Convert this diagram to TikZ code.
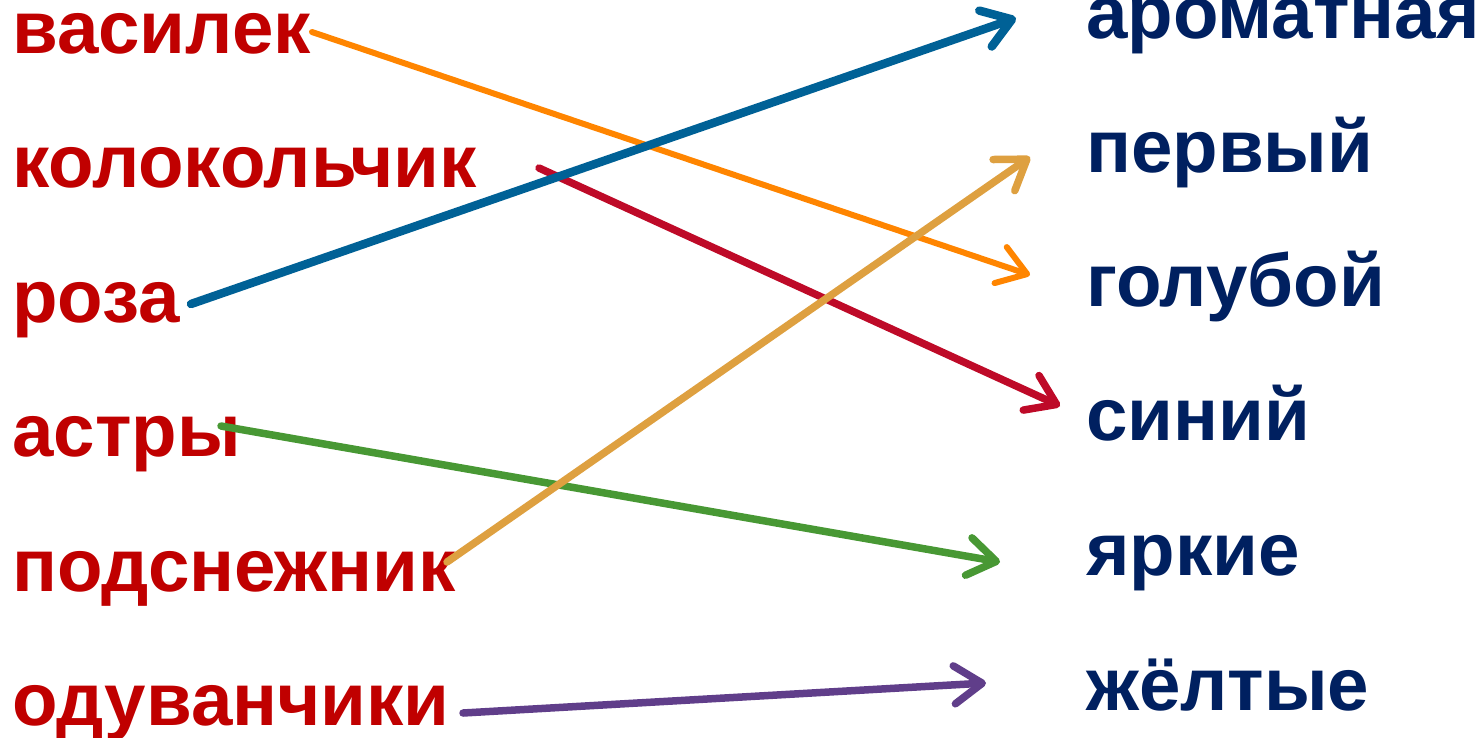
\documentclass[tikz,border=0pt]{standalone}
\usepackage{fontspec}
\setmainfont{Liberation Sans}
\usetikzlibrary{arrows.meta}
\definecolor{wordred}{RGB}{192,0,0}
\definecolor{wordnavy}{RGB}{0,32,96}
\definecolor{arrorange}{RGB}{255,133,0}
\definecolor{arrblue}{RGB}{0,97,150}
\definecolor{arrred}{RGB}{190,10,40}
\definecolor{arrgold}{RGB}{222,160,64}
\definecolor{arrgreen}{RGB}{72,152,52}
\definecolor{arrpurple}{RGB}{96,62,138}
\tikzset{
  word/.style={anchor=base west, inner sep=0pt, font=\fontsize{74.5}{80}\selectfont\bfseries},
  leftword/.style={word, text=wordred},
  rightword/.style={word, text=wordnavy},
  link/.style={line width=7.5pt, line cap=round, line join=round,
    -{Straight Barb[length=28pt,width=38pt,line cap=round,line join=round]}},
}
\begin{document}
\begin{tikzpicture}[x=1pt,y=-1pt]
\useasboundingbox (0,0) rectangle (1483,737);
% left words
\node[leftword] (l1) at (12,53) {василек};
\node[leftword] (l2) at (12,187.5) {колокольчик};
\node[leftword] (l3) at (12,322) {роза};
\node[leftword] (l4) at (12,456.5) {астры};
\node[leftword] (l5) at (12,591) {подснежник};
\node[leftword] (l6) at (12,725) {одуванчики};
% right words
\node[rightword] (r1) at (1086,38) {ароматная};
\node[rightword] (r2) at (1086,172.5) {первый};
\node[rightword] (r3) at (1086,306.5) {голубой};
\node[rightword] (r4) at (1086,440.5) {синий};
\node[rightword] (r5) at (1086,575) {яркие};
\node[rightword] (r6) at (1086,710) {жёлтые};
% connector ends
\coordinate (s1) at (312,32);
\coordinate (e1) at (1030,275);
\coordinate (s2) at (539,168);
\coordinate (e2) at (1060,406);
\coordinate (s3) at (191,304);
\coordinate (e3) at (1016,18);
\coordinate (s4) at (221,426);
\coordinate (e4) at (1000,562);
\coordinate (s5) at (447,562);
\coordinate (e5) at (1030,157);
\coordinate (s6) at (463,713);
\coordinate (e6) at (986,683);
% connectors
\draw[link, arrorange, line width=6pt] (s1) -- (e1);
\draw[link, arrred] (s2) -- (e2);
\draw[link, arrblue, line width=8.5pt] (s3) -- (e3);
\draw[link, arrgreen] (s4) -- (e4);
\draw[link, arrgold] (s5) -- (e5);
\draw[link, arrpurple] (s6) -- (e6);
\end{tikzpicture}
\end{document}
